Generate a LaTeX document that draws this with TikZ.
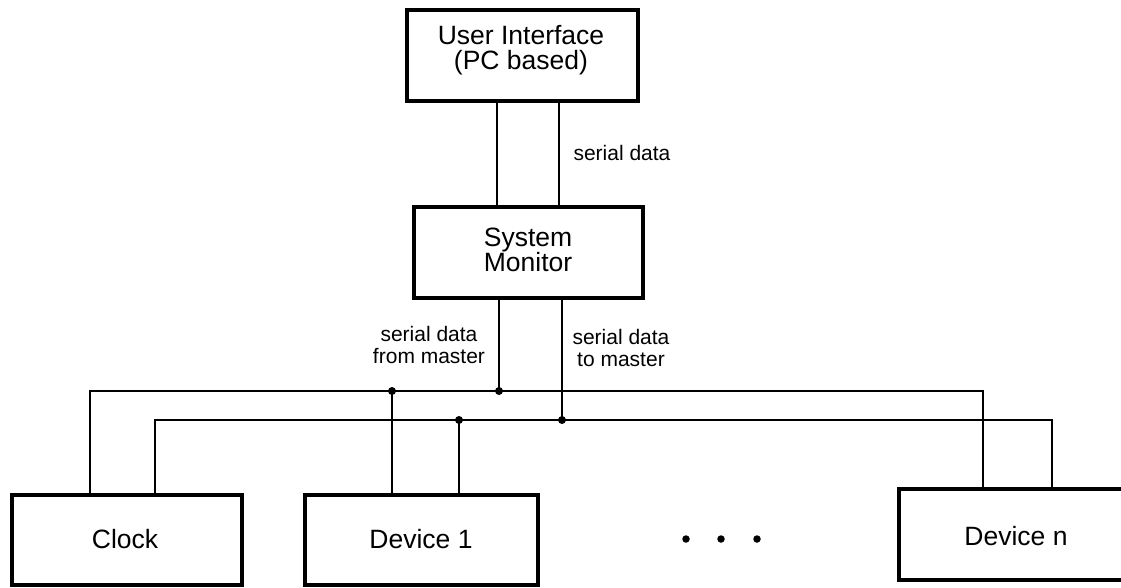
\documentclass[tikz,border=0pt]{standalone}
\usepackage{fontspec}
\setmainfont{Liberation Sans}
\begin{document}
\begin{tikzpicture}[x=1pt,y=-1pt,
  box/.style={draw, line width=4.6pt, rectangle, inner sep=0pt, align=center,
    font=\fontsize{26.5}{25}\selectfont},
  wire/.style={line width=2pt},
  lbl/.style={align=center, inner sep=0pt, font=\fontsize{21}{21.5}\selectfont},
  junction/.style={circle, fill, inner sep=0pt, minimum size=8pt},
  ell/.style={circle, fill, inner sep=0pt, minimum size=7.5pt}]
\useasboundingbox (0,0) rectangle (1121,588);
\fill[white] (0,0) rectangle (1121,588);

% boxes
\node[box, minimum width=231pt, minimum height=91pt] (UI) at (522.5,55.5) {};
\node[box, minimum width=229pt, minimum height=91pt] (SM) at (528.5,252.5) {};
\node[box, minimum width=230pt, minimum height=90pt] (Clock) at (127,540) {};
\node[box, minimum width=233pt, minimum height=90pt] (D1) at (421.5,540) {};
\node[box, minimum width=236pt, minimum height=91pt] (Dn) at (1017,534.5) {};

% box texts
\node[box, draw=none] (UIt) at (521,50) {User Interface\\(PC based)};
\node[box, draw=none] (SMt) at (528,250) {System\\Monitor};
\node[box, draw=none] (Clockt) at (125,539) {Clock};
\node[box, draw=none] (D1t) at (421,539) {Device 1};
\node[box, draw=none] (Dnt) at (1016,536) {Device n};

% labels
\node[lbl] (l0) at (622,153) {serial data};
\node[lbl] (l1) at (429,345) {serial data\\from master};
\node[lbl] (l2) at (621,348) {serial data\\to master};

% coordinates
\coordinate (u1) at (497,150);
\coordinate (u2) at (559,150);
\coordinate (j1) at (499,391);
\coordinate (j2) at (562,420);
\coordinate (j3) at (392,391);
\coordinate (j4) at (459,420);
\coordinate (b1L) at (90,391);
\coordinate (b1R) at (983,391);
\coordinate (b2L) at (155,420);
\coordinate (b2R) at (1052,420);

% UI to SM
\draw[wire] (UI.south -| u1) -- (SM.north -| u1);
\draw[wire] (UI.south -| u2) -- (SM.north -| u2);

% SM to buses
\draw[wire] (SM.south -| j1) -- (j1);
\draw[wire] (SM.south -| j2) -- (j2);

% buses
\draw[wire] (Clock.north -| b1L) -- (b1L) -- (b1R) -- (Dn.north -| b1R);
\draw[wire] (Clock.north -| b2L) -- (b2L) -- (b2R) -- (Dn.north -| b2R);

% device 1 taps
\draw[wire] (j3) -- (D1.north -| j3);
\draw[wire] (j4) -- (D1.north -| j4);

% junction dots
\node[junction] (d1) at (j1) {};
\node[junction] (d2) at (j2) {};
\node[junction] (d3) at (j3) {};
\node[junction] (d4) at (j4) {};

% ellipsis
\node[ell] (e1) at (686,539) {};
\node[ell] (e2) at (721,539) {};
\node[ell] (e3) at (757,539) {};
\end{tikzpicture}
\end{document}
